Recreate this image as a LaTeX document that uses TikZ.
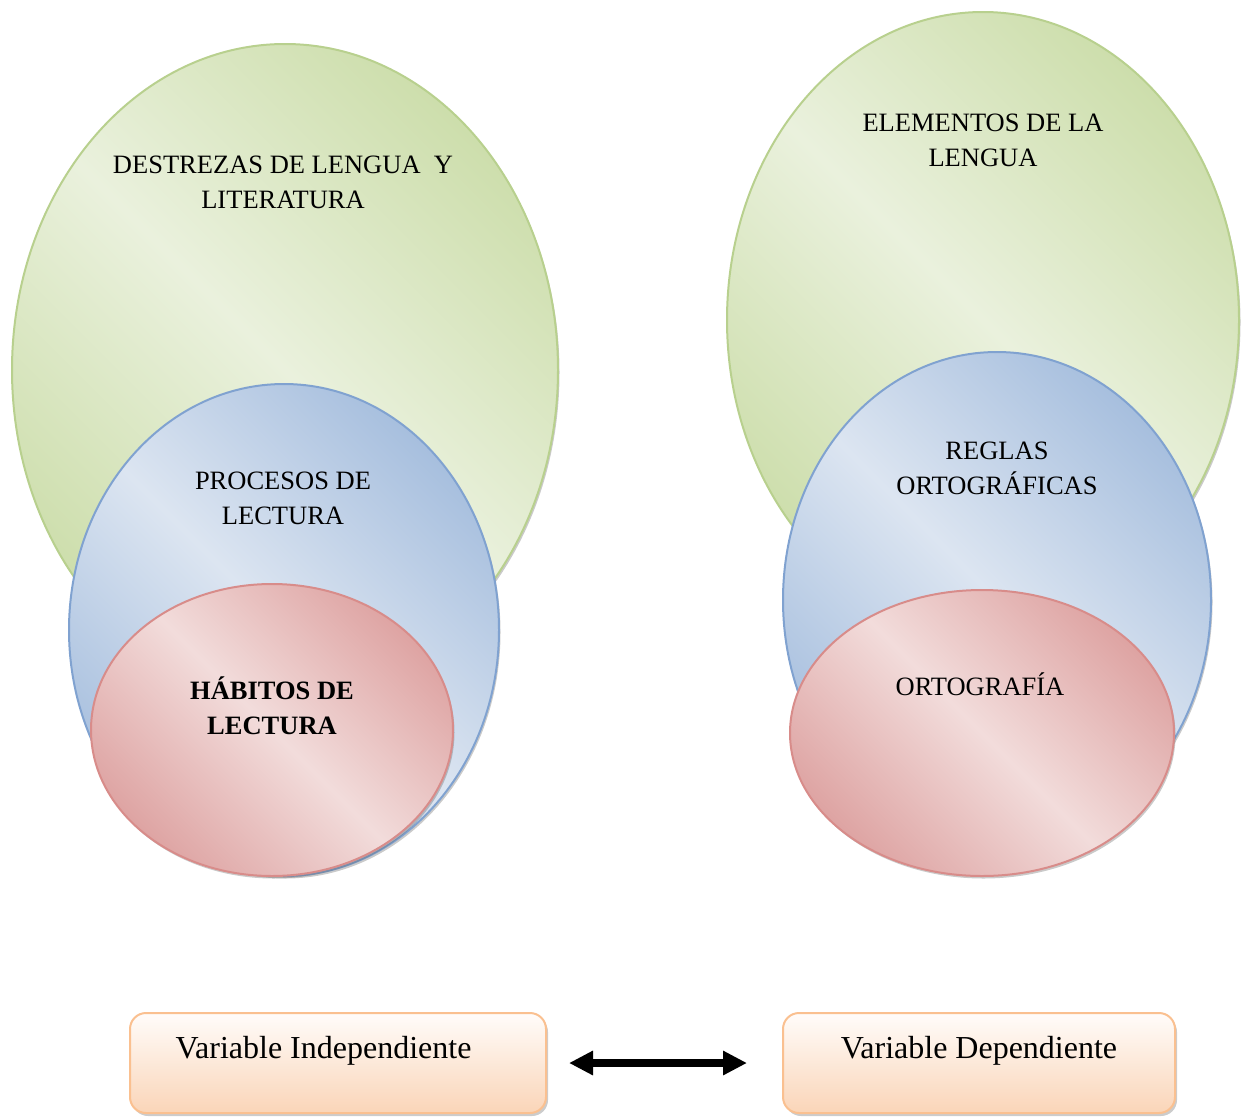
\documentclass[tikz,border=0pt]{standalone}
\usepackage{fontspec}
\setmainfont{Liberation Serif}
\usetikzlibrary{shapes.geometric,shadows,arrows.meta}
\definecolor{gdark}{RGB}{205,222,172}
\definecolor{glight}{RGB}{234,241,221}
\definecolor{gline}{RGB}{184,208,142}
\definecolor{bdark}{RGB}{167,191,222}
\definecolor{blight}{RGB}{220,229,241}
\definecolor{bline}{RGB}{128,162,208}
\definecolor{rdark}{RGB}{222,164,163}
\definecolor{rlight}{RGB}{242,220,219}
\definecolor{rline}{RGB}{216,140,138}
\definecolor{otop}{RGB}{255,252,250}
\definecolor{obot}{RGB}{250,213,184}
\definecolor{oline}{RGB}{250,192,144}
\tikzset{
  vell/.style={ellipse, inner sep=0pt, line width=2pt,
    drop shadow={shadow xshift=1.5pt, shadow yshift=-2.5pt, opacity=0.35, fill=black!60}},
  gell/.style={vell, draw=gline, top color=gdark, bottom color=gdark, middle color=glight, shading angle=-45},
  bell/.style={vell, draw=bline, top color=bdark, bottom color=bdark, middle color=blight, shading angle=-45},
  rell/.style={vell, draw=rline, top color=rdark, bottom color=rdark, middle color=rlight, shading angle=-45},
  etext/.style={align=center, inner sep=0pt, font=\fontsize{26.5}{35}\selectfont},
  varbox/.style={rounded corners=16pt, line width=2pt, draw=oline, top color=otop, bottom color=obot,
    inner sep=0pt, minimum height=100pt,
    drop shadow={shadow xshift=2pt, shadow yshift=-3pt, opacity=0.4, fill=black!50}},
  btext/.style={inner sep=0pt, anchor=base, font=\fontsize{32}{36}\selectfont},
  dblarrow/.style={line width=8pt, {Triangle[length=24pt,width=23pt]}-{Triangle[length=24pt,width=23pt]}}
}
\begin{document}
\begin{tikzpicture}[x=1pt,y=-1pt]
\useasboundingbox (0,0) rectangle (1250,1117);
% left group
\node[gell, minimum width=546pt, minimum height=652pt] (g1) at (285,370) {};
\node[bell, minimum width=430pt, minimum height=492pt] (b1) at (284,630) {};
\node[rell, minimum width=362pt, minimum height=292pt] (r1) at (272,730) {};
% right group
\node[gell, minimum width=512pt, minimum height=616pt] (g2) at (983,320) {};
\node[bell, minimum width=428pt, minimum height=496pt] (b2) at (997,600) {};
\node[rell, minimum width=384pt, minimum height=286pt] (r2) at (982,733) {};
% labels
\node[etext] (tg1) at (283,182.5) {DESTREZAS DE LENGUA~ Y\\LITERATURA};
\node[etext] (tb1) at (283,498.5) {PROCESOS DE\\LECTURA};
\node[etext, font=\fontsize{26.5}{35}\selectfont\bfseries] (tr1) at (272,706) {HÁBITOS DE\\LECTURA};
\node[etext] (tg2) at (983,140.5) {ELEMENTOS DE LA\\LENGUA};
\node[etext] (tb2) at (997,468.5) {REGLAS\\ORTOGRÁFICAS};
\node[etext, anchor=base] (tr2) at (980,695) {ORTOGRAFÍA};
% variable boxes
\node[varbox, minimum width=416pt] (vi) at (338,1063) {};
\node[varbox, minimum width=392pt] (vd) at (979,1063) {};
\node[btext] (tvi) at (323.5,1058) {Variable Independiente};
\node[btext] (tvd) at (979,1058) {Variable Dependiente};
\draw[dblarrow, shorten <=22pt, shorten >=35pt] (vi.east) -- (vd.west);
\end{tikzpicture}
\end{document}
